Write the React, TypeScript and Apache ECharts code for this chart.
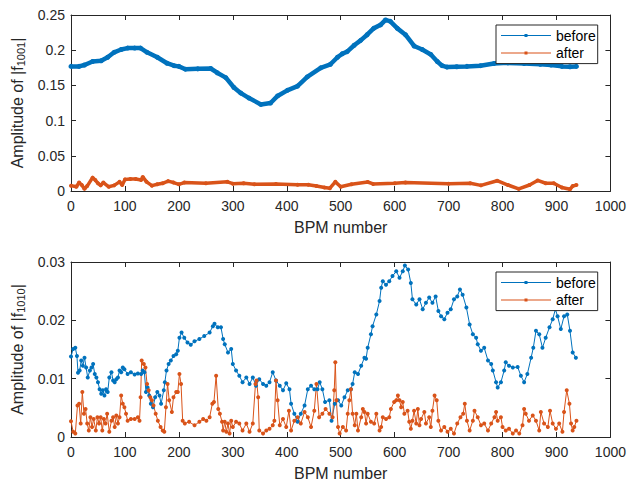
import React, { useEffect, useRef } from "react";
import * as echarts from "echarts";

// ---------- data ----------
const xTickValues = [0, 100, 200, 300, 400, 500, 600, 700, 800, 900, 1000];

// top panel: |f1001|
const f1001BeforeX = [0, 15, 25, 40, 56, 68, 80, 93, 105, 118, 129, 141, 160, 178, 191, 200, 212, 235, 259, 271, 287, 302, 315, 330, 352, 370, 383, 401, 420, 438, 463, 481, 494, 503, 512, 525, 537, 549, 561, 574, 583, 592, 605, 620, 636, 651, 667, 679, 688, 697, 715, 734, 759, 784, 810, 840, 870, 890, 910, 925, 937];
const f1001BeforeY = [0.177, 0.177, 0.179, 0.184, 0.185, 0.19, 0.197, 0.201, 0.203, 0.203, 0.203, 0.197, 0.19, 0.1815, 0.178, 0.177, 0.173, 0.1735, 0.174, 0.168, 0.161, 0.147, 0.139, 0.132, 0.123, 0.125, 0.135, 0.143, 0.149, 0.162, 0.175, 0.18, 0.19, 0.195, 0.198, 0.207, 0.214, 0.222, 0.231, 0.236, 0.243, 0.241, 0.231, 0.222, 0.206, 0.201, 0.194, 0.184, 0.178, 0.176, 0.1765, 0.177, 0.178, 0.181, 0.182, 0.181, 0.18, 0.179, 0.177, 0.1765, 0.177];
const f1001AfterX = [0, 10, 15, 20, 25, 30, 40, 45, 50, 55, 60, 70, 80, 90, 95, 100, 110, 120, 130, 133, 140, 150, 160, 170, 180, 190, 200, 210, 250, 290, 300, 320, 340, 380, 420, 440, 455, 470, 480, 490, 500, 520, 550, 560, 600, 620, 700, 740, 760, 790, 810, 830, 850, 865, 880, 895, 910, 925, 930, 937];
const f1001AfterY = [0.0076, 0.006, 0.012, 0.0085, 0.003, 0.007, 0.019, 0.0156, 0.011, 0.008, 0.012, 0.006, 0.008, 0.013, 0.0085, 0.0165, 0.017, 0.017, 0.0156, 0.02, 0.013, 0.0076, 0.0095, 0.011, 0.014, 0.012, 0.0095, 0.012, 0.011, 0.013, 0.0104, 0.011, 0.0095, 0.01, 0.009, 0.009, 0.007, 0.005, 0.004, 0.013, 0.006, 0.0095, 0.0128, 0.01, 0.011, 0.012, 0.0104, 0.011, 0.008, 0.0146, 0.0085, 0.003, 0.0085, 0.015, 0.011, 0.011, 0.005, 0.0024, 0.007, 0.0085];

// bottom panel: |f1010|
const f1010BeforeX = [0, 4, 8, 11, 13, 16, 19, 22, 25, 28, 31, 35, 38, 41, 44, 47, 50, 53, 56, 59, 62, 65, 68, 71, 75, 78, 81, 84, 87, 90, 93, 96, 99, 105, 111, 118, 124, 130, 133, 136, 139, 142, 145, 148, 152, 156, 160, 164, 167, 172, 174, 177, 181, 185, 190, 195, 198, 201, 205, 210, 216, 222, 229, 238, 247, 257, 263, 266, 272, 278, 282, 285, 291, 297, 300, 306, 312, 318, 325, 331, 337, 343, 349, 356, 362, 368, 374, 380, 387, 393, 399, 405, 408, 414, 420, 426, 433, 439, 445, 451, 457, 461, 466, 471, 479, 483, 489, 495, 501, 507, 513, 519, 522, 526, 532, 538, 544, 547, 550, 556, 559, 566, 572, 575, 578, 584, 590, 596, 603, 609, 615, 619, 625, 630, 633, 640, 646, 652, 658, 664, 670, 676, 681, 686, 692, 698, 704, 710, 716, 721, 726, 733, 739, 745, 751, 754, 760, 766, 773, 779, 782, 788, 791, 797, 803, 806, 812, 819, 828, 834, 840, 846, 853, 857, 862, 868, 874, 880, 887, 893, 898, 902, 908, 914, 920, 925, 930, 936];
const f1010BeforeY = [0.0138, 0.0151, 0.0153, 0.0139, 0.011, 0.0114, 0.0131, 0.0122, 0.0136, 0.0119, 0.0102, 0.0114, 0.0119, 0.0125, 0.0108, 0.0102, 0.0094, 0.0082, 0.0074, 0.008, 0.0071, 0.0082, 0.0077, 0.0102, 0.0111, 0.0097, 0.0094, 0.0099, 0.0102, 0.0114, 0.0111, 0.0119, 0.0116, 0.0108, 0.0111, 0.0107, 0.0109, 0.0108, 0.0114, 0.0111, 0.0077, 0.0085, 0.0071, 0.0057, 0.0051, 0.0068, 0.0077, 0.0071, 0.0057, 0.008, 0.0094, 0.0114, 0.0125, 0.0131, 0.0139, 0.0142, 0.0148, 0.017, 0.0179, 0.017, 0.0162, 0.0158, 0.0164, 0.0168, 0.0173, 0.0179, 0.019, 0.0194, 0.0188, 0.0188, 0.0168, 0.0159, 0.0145, 0.0151, 0.0125, 0.0114, 0.0105, 0.0094, 0.0102, 0.0091, 0.0102, 0.0088, 0.0099, 0.0091, 0.0088, 0.0094, 0.0111, 0.0097, 0.0088, 0.008, 0.0092, 0.0082, 0.0057, 0.004, 0.0026, 0.004, 0.0054, 0.0082, 0.0088, 0.0082, 0.0082, 0.0094, 0.0082, 0.006, 0.0063, 0.0028, 0.0057, 0.0063, 0.0054, 0.0068, 0.008, 0.0082, 0.0091, 0.0111, 0.0108, 0.0122, 0.0136, 0.0134, 0.0153, 0.0176, 0.019, 0.021, 0.0233, 0.0256, 0.0267, 0.0261, 0.0267, 0.0276, 0.0284, 0.0273, 0.0284, 0.0294, 0.0287, 0.0264, 0.0236, 0.0227, 0.0236, 0.0219, 0.023, 0.0239, 0.023, 0.0241, 0.0216, 0.0207, 0.0202, 0.0213, 0.0219, 0.0236, 0.0241, 0.0253, 0.0244, 0.0222, 0.0193, 0.0176, 0.017, 0.0159, 0.0148, 0.0153, 0.0131, 0.0125, 0.0114, 0.0094, 0.0085, 0.0094, 0.0114, 0.0128, 0.0122, 0.0119, 0.012, 0.0105, 0.0094, 0.0108, 0.0136, 0.0153, 0.0182, 0.0176, 0.0153, 0.017, 0.0188, 0.0202, 0.0219, 0.0207, 0.0185, 0.0207, 0.021, 0.0182, 0.0145, 0.0136];
const f1010AfterX = [0, 4, 8, 12, 15, 18, 21, 24, 27, 30, 33, 36, 39, 42, 46, 49, 52, 55, 58, 61, 64, 67, 71, 75, 78, 81, 84, 87, 90, 93, 96, 99, 102, 105, 111, 118, 124, 127, 129, 131, 135, 138, 141, 144, 147, 150, 153, 157, 161, 166, 170, 173, 176, 179, 182, 187, 190, 195, 198, 201, 204, 207, 211, 219, 229, 238, 245, 251, 257, 262, 265, 269, 273, 276, 280, 282, 285, 288, 291, 294, 297, 300, 306, 312, 318, 325, 331, 337, 342, 344, 347, 349, 356, 362, 368, 374, 377, 380, 383, 387, 393, 399, 404, 408, 414, 420, 426, 433, 439, 445, 451, 455, 460, 466, 472, 479, 485, 488, 490, 492, 495, 498, 504, 510, 513, 516, 519, 522, 526, 529, 532, 538, 541, 544, 547, 550, 556, 562, 566, 572, 575, 578, 584, 590, 593, 599, 603, 606, 609, 612, 615, 618, 624, 627, 630, 633, 636, 640, 643, 646, 649, 655, 658, 664, 667, 670, 674, 678, 681, 686, 692, 698, 704, 710, 716, 722, 727, 730, 734, 739, 745, 748, 754, 760, 766, 773, 779, 785, 788, 791, 797, 800, 806, 812, 819, 825, 831, 837, 840, 843, 849, 856, 862, 868, 871, 877, 884, 888, 893, 899, 905, 911, 914, 919, 924, 927, 930, 933, 937];
const f1010AfterY = [0.0027, 0.0009, 0.0006, 0.0054, 0.0057, 0.0023, 0.0077, 0.004, 0.0048, 0.0023, 0.0011, 0.0034, 0.0017, 0.0031, 0.0011, 0.0034, 0.0023, 0.0034, 0.0011, 0.0031, 0.0023, 0.004, 0.0009, 0.0028, 0.0034, 0.0017, 0.0037, 0.0023, 0.0034, 0.0071, 0.0057, 0.0051, 0.004, 0.0028, 0.0031, 0.0031, 0.0034, 0.0028, 0.0068, 0.0131, 0.0125, 0.0119, 0.0091, 0.008, 0.0068, 0.0063, 0.0054, 0.004, 0.0028, 0.0017, 0.0011, 0.0009, 0.0051, 0.0091, 0.0063, 0.0043, 0.0068, 0.0077, 0.0077, 0.0108, 0.0091, 0.0028, 0.0023, 0.0026, 0.002, 0.0026, 0.0031, 0.0028, 0.0034, 0.0057, 0.006, 0.0105, 0.0048, 0.004, 0.0026, 0.0011, 0.0026, 0.0009, 0.0023, 0.0006, 0.0028, 0.0017, 0.0026, 0.0023, 0.0011, 0.0023, 0.0009, 0.0023, 0.0091, 0.0097, 0.0068, 0.0011, 0.0006, 0.0011, 0.0014, 0.002, 0.0028, 0.0097, 0.0063, 0.002, 0.0031, 0.0017, 0.0045, 0.0011, 0.0028, 0.0034, 0.0023, 0.0043, 0.0034, 0.0017, 0.0045, 0.0091, 0.0034, 0.004, 0.0048, 0.004, 0.0034, 0.008, 0.0128, 0.0063, 0.0017, 0.0006, 0.0017, 0.0011, 0.004, 0.0063, 0.0082, 0.004, 0.002, 0.004, 0.0011, 0.0034, 0.0048, 0.0043, 0.0023, 0.004, 0.0026, 0.0023, 0.004, 0.0011, 0.0017, 0.0034, 0.0031, 0.0034, 0.0048, 0.006, 0.0063, 0.0071, 0.0063, 0.0051, 0.006, 0.004, 0.0045, 0.0026, 0.0014, 0.0028, 0.0045, 0.0023, 0.0048, 0.002, 0.0031, 0.0043, 0.0023, 0.0034, 0.0017, 0.0045, 0.0071, 0.0063, 0.0028, 0.0011, 0.0017, 0.0009, 0.0014, 0.0006, 0.0023, 0.0034, 0.004, 0.0057, 0.0028, 0.0011, 0.0028, 0.0045, 0.0034, 0.002, 0.0023, 0.0011, 0.0023, 0.0034, 0.0043, 0.0028, 0.0034, 0.0017, 0.0011, 0.0014, 0.0006, 0.0011, 0.0006, 0.002, 0.0048, 0.004, 0.0028, 0.0037, 0.0028, 0.0011, 0.0043, 0.0023, 0.0017, 0.0045, 0.0023, 0.0014, 0.0023, 0.0009, 0.0043, 0.008, 0.0057, 0.0023, 0.0011, 0.0017, 0.0028];

const seriesNames = ["before", "after"];
const topYTicks = { min: 0, max: 0.25, interval: 0.05 };
const bottomYTicks = { min: 0, max: 0.03, interval: 0.01 };

const BLUE = "#0072BD";
const ORANGE = "#D95319";
const AXIS = "#262626";
const FONT = "'Liberation Sans', Arial, Helvetica, sans-serif";

const zip = (xs: number[], ys: number[]) => xs.map((x, i) => [x, ys[i]]);

const LEGEND_ICON =
  "path://M0,0h0.01v0.01h-0.01z M49.99,13.99h0.01v0.01h-0.01z M0,6.5H50V7.5H0Z M23.5,5.5H26.5V8.5H23.5Z";

function fmtY(v: number) {
  if (v === 0) return "0";
  return String(parseFloat(v.toFixed(3)));
}

function fmtX(v: number) {
  return String(Math.round(v));
}

function App() {
  const ref = useRef<HTMLDivElement>(null);
  useEffect(() => {
    if (!ref.current) return;
    const chart = echarts.init(ref.current, undefined, { renderer: "svg" });

    const grids = [
      { left: 71, top: 15, width: 541, height: 176 },
      { left: 71, top: 262, width: 541, height: 176 },
    ];

    const baseX = (gridIndex: number, position: "bottom" | "top") => ({
      type: "value" as const,
      gridIndex,
      position,
      min: xTickValues[0],
      max: xTickValues[xTickValues.length - 1],
      interval: 100,
      axisLine: { show: true, onZero: false, lineStyle: { color: AXIS, width: 1 } },
      axisTick: { show: true, inside: true, length: 5, lineStyle: { color: AXIS } },
      splitLine: { show: false },
      axisLabel: {
        show: position === "bottom",
        color: AXIS,
        fontSize: 14,
        fontFamily: FONT,
        margin: 8,
        formatter: fmtX,
      },
      name: position === "bottom" ? "BPM number" : "",
      nameLocation: "middle" as const,
      nameGap: 28,
      nameTextStyle: { color: AXIS, fontSize: 16, fontFamily: FONT },
    });

    const baseY = (
      gridIndex: number,
      position: "left" | "right",
      t: { min: number; max: number; interval: number },
      sub: string
    ) => ({
      type: "value" as const,
      gridIndex,
      position,
      min: t.min,
      max: t.max,
      interval: t.interval,
      axisLine: { show: true, onZero: false, lineStyle: { color: AXIS, width: 1 } },
      axisTick: { show: true, inside: true, length: 5, lineStyle: { color: AXIS } },
      splitLine: { show: false },
      axisLabel: {
        show: position === "left",
        color: AXIS,
        fontSize: 14,
        fontFamily: FONT,
        margin: 6,
        formatter: fmtY,
      },
      name: position === "left" ? `Amplitude of |f{s|${sub}}|` : "",
      nameLocation: "middle" as const,
      nameGap: 36,
      nameTextStyle: {
        color: AXIS,
        fontSize: 16,
        fontFamily: FONT,
        rich: {
          s: { fontSize: 11, color: AXIS, fontFamily: FONT, padding: [8, 0, 0, 0] },
        },
      },
    });

    const legendFor = (top: number) => ({
      orient: "vertical" as const,
      left: 496,
      top,
      padding: [3.5, 2, 3.5, 5],
      itemGap: 3.6,
      itemWidth: 50,
      itemHeight: 14,
      backgroundColor: "#ffffff",
      borderColor: AXIS,
      borderWidth: 1,
      borderRadius: 0,
      selectedMode: false,
      textStyle: { color: "#000", fontSize: 14, fontFamily: FONT, lineHeight: 14 },
      data: seriesNames.map((n) => ({ name: n, icon: LEGEND_ICON })),
    });

    const lineSeries = (
      name: string,
      color: string,
      data: number[][],
      axisIndex: number,
      lineWidth: number,
      symbolSize: number
    ) => ({
      type: "line" as const,
      name,
      xAxisIndex: axisIndex,
      yAxisIndex: axisIndex,
      data,
      symbol: "circle",
      symbolSize,
      showSymbol: true,
      color,
      lineStyle: { color, width: lineWidth },
      itemStyle: { color, borderWidth: 0 },
      emphasis: { disabled: true },
      clip: true,
    });

    chart.setOption({
      animation: false,
      backgroundColor: "#ffffff",
      textStyle: { fontFamily: FONT },
      grid: grids,
      legend: [legendFor(25), legendFor(272)],
      xAxis: [baseX(0, "bottom"), baseX(0, "top"), baseX(1, "bottom"), baseX(1, "top")],
      yAxis: [
        baseY(0, "left", topYTicks, "1001"),
        baseY(0, "right", topYTicks, "1001"),
        baseY(1, "left", bottomYTicks, "1010"),
        baseY(1, "right", bottomYTicks, "1010"),
      ],
      series: [
        lineSeries(seriesNames[0], BLUE, zip(f1001BeforeX, f1001BeforeY), 0, 4.5, 5),
        lineSeries(seriesNames[1], ORANGE, zip(f1001AfterX, f1001AfterY), 0, 3.5, 4),
        lineSeries(seriesNames[0], BLUE, zip(f1010BeforeX, f1010BeforeY), 2, 1, 4),
        lineSeries(seriesNames[1], ORANGE, zip(f1010AfterX, f1010AfterY), 2, 1, 4),
      ],
    });

    return () => chart.dispose();
  }, []);

  return (
    <div
      ref={ref}
      style={{ position: "fixed", left: 0, top: 0, width: 629, height: 482, background: "#fff" }}
    />
  );
}

export default App;
